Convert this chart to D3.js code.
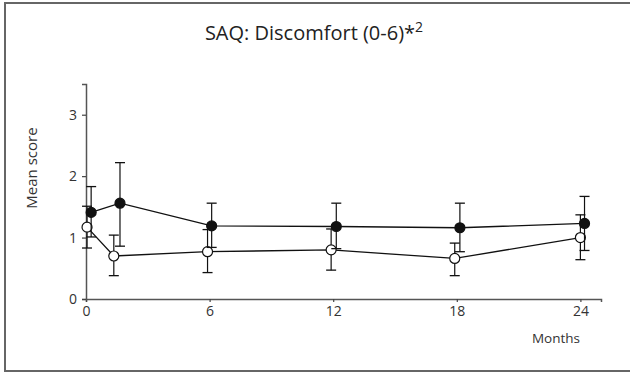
<!DOCTYPE html>
<html>
<head>
<meta charset="utf-8">
<script src="https://cdn.jsdelivr.net/npm/d3@7"></script>
<style>
  body { margin: 0; background: #fff; }
  svg { display: block; font-family: "Open Sans", "DejaVu Sans", sans-serif; }
</style>
</head>
<body>
<svg id="chart" width="630" height="375"></svg>
<script>
// Months of follow-up at which each group was measured (small offsets keep the error bars apart)
const monthsFilled = [0.25, 1.65, 6.1, 12.15, 18.15, 24.2];
const monthsOpen   = [0.05, 1.35, 5.9, 11.9, 17.9, 24.0];

// Mean SAQ discomfort score with lower/upper error bounds
const meanFilled  = [1.41, 1.56, 1.19, 1.18, 1.16, 1.23];
const lowerFilled = [1.01, 0.86, 0.84, 0.82, 0.77, 0.79];
const upperFilled = [1.83, 2.22, 1.56, 1.56, 1.56, 1.67];

const meanOpen  = [1.17, 0.70, 0.77, 0.80, 0.66, 1.00];
const lowerOpen = [0.83, 0.38, 0.43, 0.47, 0.38, 0.64];
const upperOpen = [1.51, 1.04, 1.13, 1.14, 0.91, 1.37];

const xTicks = [0, 6, 12, 18, 24];
const yTicks = [0, 1, 2, 3];

const svg = d3.select("#chart");

// Outer frame (runs off the right edge)
svg.append("path")
  .attr("d", "M640,3 H5 V371 H640")
  .attr("fill", "none").attr("stroke", "#666").attr("stroke-width", 2);

const x = d3.scaleLinear().domain([0, 25]).range([86, 601]);
const y = d3.scaleLinear().domain([0, 3.5]).range([299, 84]);

// Title
const title = svg.append("text")
  .attr("x", 314).attr("y", 40)
  .attr("text-anchor", "middle")
  .attr("font-size", 20).attr("fill", "#222");
title.append("tspan").text("SAQ: Discomfort (0-6)*");
title.append("tspan").attr("font-size", 14).attr("dy", -8).text("2");

// Axes
const fmt = d3.format("d");
const xAxis = svg.append("g").attr("transform", "translate(0,299)")
  .call(d3.axisBottom(x).tickValues(xTicks).tickFormat(fmt).tickSize(3).tickPadding(4));
const yAxis = svg.append("g").attr("transform", "translate(86,0)")
  .call(d3.axisLeft(y).tickValues(yTicks).tickFormat(fmt).tickSize(4).tickPadding(5));

[xAxis, yAxis].forEach(g => {
  g.select(".domain").attr("stroke", "#555").attr("stroke-width", 1.5);
  g.selectAll(".tick line").attr("stroke", "#444").attr("stroke-width", 1.2);
  g.selectAll(".tick text").attr("font-size", 14).attr("fill", "#333")
    .attr("font-family", "\"Open Sans\", sans-serif");
});

svg.append("text")
  .attr("x", 580).attr("y", 343)
  .attr("text-anchor", "end")
  .attr("font-size", 13.5).attr("fill", "#333")
  .text("Months");

svg.append("text")
  .attr("transform", "translate(37,168) rotate(-90)")
  .attr("text-anchor", "middle")
  .attr("font-size", 15).attr("fill", "#333")
  .text("Mean score");

function drawSeries(months, mean, lower, upper, fill) {
  const pts = months.map((m, i) => ({ m, v: mean[i], lo: lower[i], hi: upper[i] }));
  const g = svg.append("g");

  g.append("path")
    .datum(pts)
    .attr("fill", "none").attr("stroke", "#111").attr("stroke-width", 1.3)
    .attr("d", d3.line().x(d => x(d.m)).y(d => y(d.v)));

  const bars = g.selectAll(".err").data(pts).enter().append("g");
  bars.append("line")
    .attr("x1", d => x(d.m)).attr("x2", d => x(d.m))
    .attr("y1", d => y(d.lo)).attr("y2", d => y(d.hi))
    .attr("stroke", "#111").attr("stroke-width", 1.2);
  ["lo", "hi"].forEach(k => {
    bars.append("line")
      .attr("x1", d => x(d.m) - 5).attr("x2", d => x(d.m) + 5)
      .attr("y1", d => y(d[k])).attr("y2", d => y(d[k]))
      .attr("stroke", "#111").attr("stroke-width", 1.3);
  });

  g.selectAll("circle").data(pts).enter().append("circle")
    .attr("cx", d => x(d.m)).attr("cy", d => y(d.v))
    .attr("r", 5)
    .attr("fill", fill).attr("stroke", "#111").attr("stroke-width", 1.2);
}

drawSeries(monthsOpen, meanOpen, lowerOpen, upperOpen, "#fff");
drawSeries(monthsFilled, meanFilled, lowerFilled, upperFilled, "#111");
</script>
</body>
</html>
